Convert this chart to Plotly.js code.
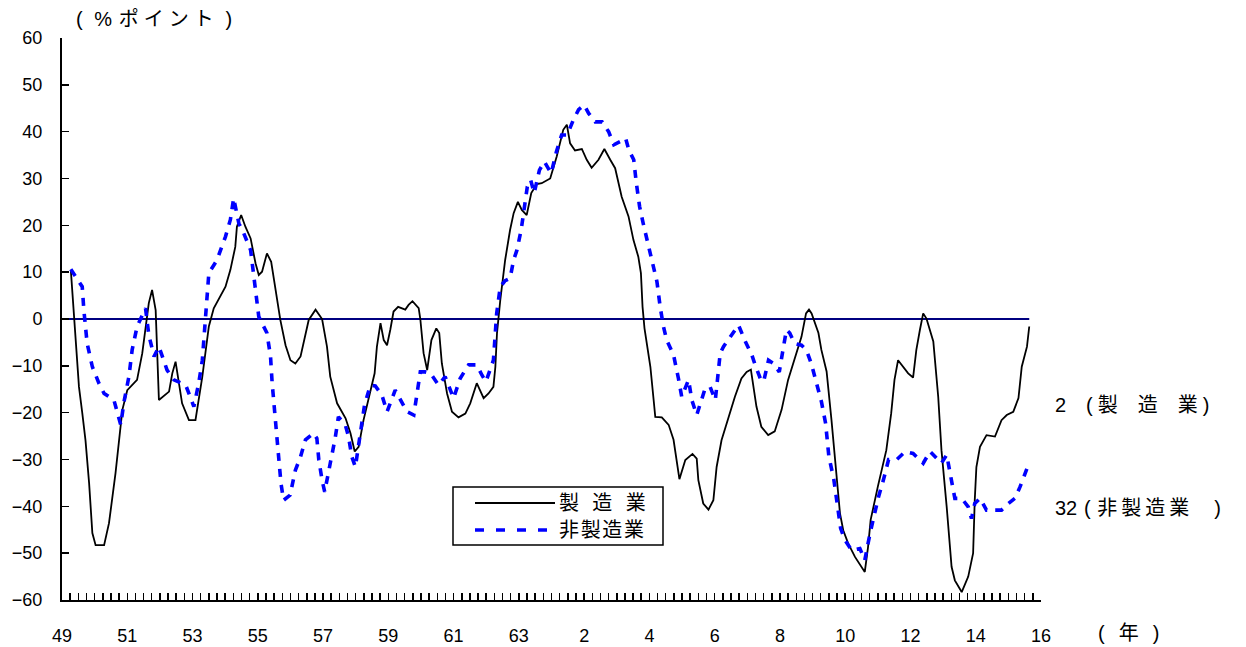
<!DOCTYPE html>
<html>
<head>
<meta charset="utf-8">
<script src="https://cdn.plot.ly/plotly-3.0.1.min.js"></script>
<style>
  html, body { margin: 0; padding: 0; background: #fff; }
  #chart { width: 1246px; height: 647px; }
</style>
</head>
<body>
<div id="chart"></div>
<script>
// ---- Data (time offset in years from 1974 = 昭和49年, value in %ポイント) ----
const baseYear = 1974;

const mfgT = [0.27,0.37,0.52,0.62,0.72,0.83,0.93,1.03,1.29,1.44,1.64,1.85,2.0,2.3,2.46,2.66,2.76,2.87,2.97,3.28,3.38,3.48,3.68,3.89,4.09,4.3,4.5,4.65,4.86,5.01,5.16,5.31,5.36,5.49,5.62,5.78,5.93,6.03,6.13,6.28,6.41,6.54,6.69,6.85,7.0,7.15,7.31,7.56,7.77,7.97,8.12,8.22,8.43,8.69,8.84,8.97,9.09,9.24,9.40,9.58,9.65,9.76,9.86,9.96,10.06,10.16,10.3,10.52,10.62,10.74,10.93,10.98,11.08,11.19,11.32,11.47,11.56,11.64,11.8,11.95,12.15,12.36,12.51,12.71,12.92,13.07,13.22,13.28,13.33,13.43,13.58,13.73,13.84,13.97,14.09,14.24,14.38,14.55,14.7,14.96,15.16,15.36,15.47,15.57,15.72,15.93,16.08,16.23,16.44,16.62,16.8,16.95,17.15,17.36,17.51,17.66,17.74,17.79,17.85,18.03,18.13,18.18,18.38,18.59,18.74,18.84,18.92,19.1,19.32,19.45,19.5,19.65,19.81,19.96,20.06,20.21,20.42,20.62,20.82,20.98,21.11,21.18,21.28,21.43,21.64,21.84,22.05,22.25,22.46,22.66,22.8,22.89,22.97,23.18,23.27,23.43,23.58,23.73,23.84,23.94,24.09,24.3,24.6,24.7,24.78,25.0,25.26,25.41,25.51,25.62,25.77,25.93,26.08,26.18,26.29,26.39,26.49,26.7,26.85,26.95,27.11,27.26,27.36,27.57,27.77,27.92,27.97,28.02,28.13,28.33,28.59,28.79,28.95,29.15,29.31,29.41,29.57,29.64];
const mfgV = [10.5,0.5,-14.5,-20,-25.9,-35,-45.7,-48.3,-48.3,-43.6,-32.9,-19.4,-15.2,-13,-7.3,3.4,6.2,1.9,-17.3,-15.5,-11.6,-9.1,-18,-21.6,-21.6,-12.3,-1.6,2.3,5.1,6.9,10.5,15.4,19.7,22.2,19.7,17.2,11.9,9.4,10.1,14,12.2,6.2,-0.2,-5.6,-8.8,-9.5,-8,-0.2,2,0,-5.9,-12.3,-18,-21.2,-24.4,-28.3,-27.3,-21.6,-16.6,-11.6,-5.9,-0.9,-4.5,-5.6,-2.3,1.6,2.6,2,3,3.8,2.3,0,-7.3,-10.9,-4.5,-2,-3,-9.5,-15.9,-19.8,-21,-20.2,-18,-13.7,-16.9,-15.9,-14.5,-10.2,-3,4,12.6,19,22.6,25,23.3,22.2,26.9,28.8,29,30,34.7,40.4,41.5,37.5,36,36.3,34,32.3,34,36.3,34,32.2,26.1,21.9,16.9,13.3,9.8,2.6,-2,-10.2,-17.3,-20.9,-21,-22.6,-25.8,-30.1,-34.2,-30.1,-28.8,-29.8,-34.4,-39.4,-40.7,-38.7,-31.6,-25.9,-20.9,-16.6,-12.7,-11.3,-10.8,-14.5,-18.7,-23,-24.8,-24,-19.4,-13,-8,-3.8,1.2,2,1.2,-3,-6.6,-11.2,-21.6,-33,-41.5,-45.1,-47.9,-50.8,-54,-48.7,-42.9,-35.8,-28,-20.1,-13,-8.8,-10.2,-11.6,-12.5,-6.6,-2.3,1.2,0.1,-4.8,-16.6,-28,-40.1,-52.9,-55.8,-58.3,-55,-50,-38.7,-31.6,-27.3,-24.8,-25.1,-21.6,-20.5,-19.8,-16.9,-10.2,-5.9,-1.6];

const nonMfgT = [0.27,0.62,0.67,0.77,0.93,1.13,1.29,1.59,1.8,1.9,2.05,2.15,2.3,2.56,2.66,2.82,2.97,3.22,3.43,3.79,4.04,4.19,4.3,4.35,4.40,4.45,4.5,4.75,5.01,5.16,5.26,5.42,5.57,5.78,5.86,5.93,6.03,6.28,6.39,6.44,6.52,6.59,6.64,6.71,6.79,6.99,7.15,7.31,7.46,7.71,7.81,7.87,7.97,8.05,8.22,8.37,8.47,8.68,8.78,8.88,8.99,9.09,9.19,9.27,9.45,9.6,9.8,9.96,10.21,10.42,10.57,10.78,10.88,10.98,11.13,11.29,11.54,11.74,12.0,12.2,12.46,12.71,12.87,12.99,13.22,13.28,13.32,13.43,13.58,13.73,13.84,13.94,14.07,14.15,14.26,14.36,14.47,14.63,14.78,14.99,15.15,15.31,15.48,15.67,15.83,16.0,16.14,16.34,16.55,16.75,16.91,17.11,17.27,17.37,17.52,17.6,17.7,17.81,17.93,18.08,18.23,18.33,18.43,18.53,18.74,18.89,18.99,19.2,19.3,19.45,19.71,19.86,20.02,20.09,20.17,20.27,20.48,20.58,20.73,20.94,21.14,21.24,21.4,21.5,21.65,21.8,21.98,22.1,22.2,22.3,22.45,22.66,22.81,22.96,23.12,23.27,23.4,23.5,23.65,23.75,23.86,23.99,24.2,24.45,24.6,24.76,24.87,25.02,25.17,25.33,25.58,25.84,26.08,26.39,26.6,26.75,26.95,27.11,27.26,27.36,27.57,27.77,27.87,27.97,28.13,28.33,28.59,28.79,29.0,29.2,29.36,29.57,29.67];
const nonMfgV = [10.6,6.9,1.9,-5.2,-10.2,-13.7,-15.9,-17.3,-22.6,-17.7,-12.3,-6.6,-1.6,2.3,-3.4,-8,-5.9,-10.9,-13,-14.1,-18.7,-13.7,-8.8,-4.5,0.5,5.1,9.8,12.6,17.6,21.2,25.8,20.4,18.3,14.7,10.1,5.5,0.5,-3,-8,-13.7,-20.5,-25.5,-30.1,-35.1,-38.7,-37.6,-32.3,-29.4,-25.8,-24.4,-25.5,-30.1,-34.4,-36.9,-30.8,-25.5,-20.9,-22.6,-25.1,-29.4,-31.6,-26.9,-21.9,-18.4,-14.1,-14.3,-16.2,-19.8,-15.2,-17.7,-19.8,-20.5,-15.5,-11.3,-11.3,-11.6,-14.1,-12.3,-16.9,-12.7,-9.8,-9.8,-12,-13.4,-8.8,-3.8,1.2,6.9,8.2,8.7,12.6,14.7,19,22.9,28.3,29.7,26.9,31.8,33.6,31.1,35.7,39.3,39.3,42.5,44.7,45.7,43.9,42.1,42.1,40,37.2,37.9,38.6,36.1,34,29,24,20.4,16.9,12.2,8,2.6,-1.6,-4.5,-7.7,-12.7,-16.6,-13,-17.3,-20.5,-14.8,-14.5,-17.3,-12.7,-7.3,-5.9,-3.8,-3,-1.3,-4.8,-7.7,-9.8,-12.7,-13.4,-8.8,-9.5,-11.3,-6.3,-2.3,-3,-5.2,-5.6,-6.6,-9.5,-14,-17.6,-22.3,-29.4,-34.2,-39.4,-44.7,-47.2,-49.4,-49,-51.5,-45.8,-42.2,-38,-34.4,-30,-30,-28.3,-28.7,-30.8,-28.3,-29.4,-30.8,-29,-34.4,-38.3,-38.3,-40.1,-42.6,-39.4,-38.3,-40.8,-40.8,-40.8,-39.4,-38.3,-35.8,-31.9,-31.9];

const tickYears  = [1974,1976,1978,1980,1982,1984,1986,1988,1990,1992,1994,1996,1998,2000,2002,2004];
const tickLabels = ['49','51','53','55','57','59','61','63','2','4','6','8','10','12','14','16'];

const seriesNames = ['製 造 業', '非製造業'];
const endLabels   = ['2\u2003(\u2005製\u2003造\u2003業\u2005)', '32\u2004(\u2004非\u2009製\u2009造\u2009業\u2003\u2005)'];

// ---- Build ----
const toX = t => t.map(v => baseYear + v);
const FONT = '"Liberation Sans", Arial, "Noto Sans CJK JP", sans-serif';

const M = {l: 62, r: 205, t: 38, b: 47};
const W = 1246, H = 647;
const pw = W - M.l - M.r, ph = H - M.t - M.b;
const px = x => (x - M.l) / pw;        // page pixel -> paper x
const py = y => (H - M.b - y) / ph;    // page pixel -> paper y

const traces = [
  {x: toX(mfgT), y: mfgV, type: 'scatter', mode: 'lines', name: seriesNames[0],
   line: {color: '#000000', width: 1.8}, showlegend: false, hoverinfo: 'skip'},
  {x: toX(nonMfgT), y: nonMfgV, type: 'scatter', mode: 'lines', name: seriesNames[1],
   line: {color: '#0000FF', width: 3.6, dash: '8px,8px'}, showlegend: false, hoverinfo: 'skip'}
];

const lastX = baseYear + mfgT[mfgT.length - 1];

const layout = {
  width: W, height: H,
  margin: M,
  paper_bgcolor: '#ffffff', plot_bgcolor: '#ffffff',
  font: {family: FONT, size: 18, color: '#000'},
  showlegend: false,
  xaxis: {
    range: [baseYear, 2004], tickmode: 'array', tickvals: tickYears, ticktext: tickLabels,
    ticks: 'inside', ticklen: 7, tickwidth: 1.5, tickcolor: '#000',
    minor: {dtick: 0.25, tick0: baseYear, ticks: 'inside', ticklen: 7, tickwidth: 1.5, tickcolor: '#000', showgrid: false},
    showline: true, linecolor: '#000', linewidth: 2, showgrid: false, zeroline: false,
    ticklabelstandoff: 18, tickfont: {size: 18, family: FONT}
  },
  yaxis: {
    range: [-60, 60], dtick: 10, tick0: 0,
    ticks: 'inside', ticklen: 7, tickwidth: 1.5, tickcolor: '#000',
    showline: true, linecolor: '#000', linewidth: 2, showgrid: false, zeroline: false,
    ticklabelstandoff: 14, tickfont: {size: 18, family: FONT}
  },
  shapes: [
    {type: 'line', xref: 'x', yref: 'y', x0: baseYear, x1: lastX, y0: 0, y1: 0,
     line: {color: '#000080', width: 1.8}, layer: 'below'},
    // legend box
    {type: 'rect', xref: 'paper', yref: 'paper', x0: px(453), x1: px(663), y0: py(545), y1: py(487),
     line: {color: '#000', width: 1.5}, fillcolor: '#fff'},
    {type: 'line', xref: 'paper', yref: 'paper', x0: px(475), x1: px(555), y0: py(503), y1: py(503),
     line: {color: '#000', width: 1.8}},
    {type: 'line', xref: 'paper', yref: 'paper', x0: px(475), x1: px(553), y0: py(530), y1: py(530),
     line: {color: '#0000FF', width: 3.6, dash: '9px,12px'}}
  ],
  annotations: [
    {xref: 'paper', yref: 'paper', x: px(74), y: py(19), xanchor: 'left', yanchor: 'middle',
     text: '(\u2004\u2005%\u2004ポ\u2005イ\u2005ン\u2005ト\u2004\u2005)', showarrow: false, font: {size: 20}},
    {xref: 'paper', yref: 'paper', x: px(1096), y: py(633), xanchor: 'left', yanchor: 'middle',
     text: '(\u2002\u2009年\u2002\u2009)', showarrow: false, font: {size: 20}},
    {xref: 'paper', yref: 'paper', x: px(557), y: py(503), xanchor: 'left', yanchor: 'middle',
     text: '製\u2002\u2006造\u2002\u2006業', showarrow: false, font: {size: 20}},
    {xref: 'paper', yref: 'paper', x: px(557), y: py(530), xanchor: 'left', yanchor: 'middle',
     text: '非\u200A製\u200A造\u200A業', showarrow: false, font: {size: 20}},
    {xref: 'paper', yref: 'paper', x: px(1053), y: py(405), xanchor: 'left', yanchor: 'middle',
     text: endLabels[0], showarrow: false, font: {size: 20}},
    {xref: 'paper', yref: 'paper', x: px(1053), y: py(508), xanchor: 'left', yanchor: 'middle',
     text: endLabels[1], showarrow: false, font: {size: 20}}
  ]
};

Plotly.newPlot('chart', traces, layout, {staticPlot: true, displayModeBar: false});
</script>
</body>
</html>
